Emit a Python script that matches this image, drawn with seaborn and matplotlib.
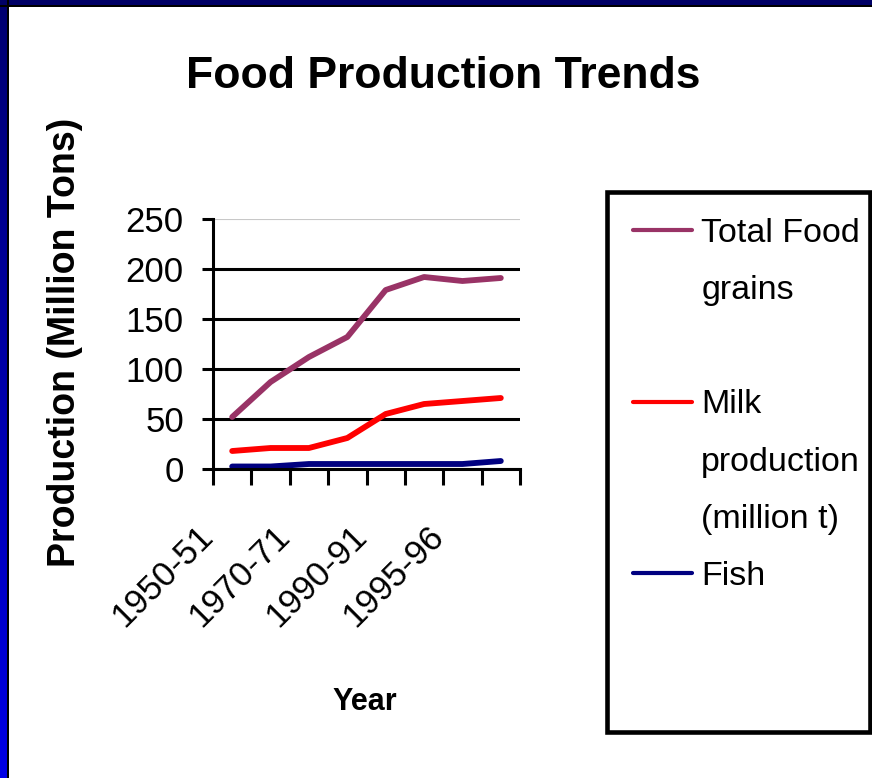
import numpy as np
import pandas as pd
import matplotlib
matplotlib.use("Agg")
import matplotlib.pyplot as plt
import matplotlib.transforms as mtransforms
from matplotlib.lines import Line2D
from matplotlib.patches import Rectangle
import seaborn as sns

# ---- data ----
x_labels = ["1950-51", "", "1970-71", "", "1990-91", "", "1995-96", ""]
grains = [52, 87, 112, 132, 179, 192, 188, 191]
milk = [18, 21, 21, 31, 55, 65, 68, 71]
fish = [2.5, 2.5, 5, 5, 5, 5, 5, 8]
series_names = ["Total Food grains", "Milk production (million t)", "Fish"]
colors = ["#993366", "#FF0000", "#000080"]
y_ticks = [0, 50, 100, 150, 200, 250]

rows = []
for name, vals in zip(series_names, [grains, milk, fish]):
    for i, v in enumerate(vals):
        rows.append({"idx": i, "value": v, "series": name})
df = pd.DataFrame(rows)

sns.set_theme(style="white")
FAM = ["Liberation Sans", "DejaVu Sans"]
plt.rcParams["font.family"] = FAM
for k in ["text.color", "axes.labelcolor", "xtick.color", "ytick.color"]:
    plt.rcParams[k] = "black"

fig = plt.figure(figsize=(8.72, 7.78), dpi=100, facecolor="white")
ax = fig.add_axes([213 / 872, 1 - 469 / 778, (520 - 213) / 872, (469 - 219) / 778])

sns.lineplot(data=df, x="idx", y="value", hue="series", hue_order=series_names,
             palette=colors, linewidth=4.2, legend=False, ax=ax, sort=False)

ax.set_xlim(-0.5, len(x_labels) - 0.5)
ax.set_ylim(0, 250)
ax.set_xlabel("")
ax.set_ylabel("")

# y axis
ax.set_yticks(y_ticks)
ax.set_yticklabels([str(t) for t in y_ticks], fontsize=25)
ax.tick_params(axis="y", which="major", direction="out", length=8, width=2.2,
               color="black", labelcolor="black", pad=13, left=True)
ax.yaxis.grid(True, color="black", linewidth=2.2)
ax.set_axisbelow(True)
gl = ax.get_ygridlines()
gl[-1].set_color("#c8c8c8")
gl[-1].set_linewidth(0.8)

# x axis: boundary ticks (minor) + labels at every other category (major)
ax.set_xticks(np.arange(-0.5, len(x_labels), 1.0), minor=True)
lab_pos = [i for i, l in enumerate(x_labels) if l]
ax.set_xticks(lab_pos)
ax.set_xticklabels([x_labels[i] for i in lab_pos], fontsize=25, rotation=45,
                   ha="right", va="center", rotation_mode="anchor")
ax.tick_params(axis="x", which="minor", direction="out", length=11.5, width=2.2,
               color="black", bottom=True)
ax.tick_params(axis="x", which="major", length=0, pad=45, bottom=True,
               labelcolor="black")
offset = mtransforms.ScaledTranslation(-24 / 100, 0, fig.dpi_scale_trans)
for lbl in ax.get_xticklabels():
    lbl.set_transform(lbl.get_transform() + offset)

for s in ["top", "right"]:
    ax.spines[s].set_visible(False)
for s in ["left", "bottom"]:
    ax.spines[s].set_color("black")
    ax.spines[s].set_linewidth(2.2)

# titles
fig.text(443.5 / 872, 1 - 88 / 778, "Food Production Trends", ha="center",
         va="baseline", fontsize=32, fontweight="bold", color="black")
fig.text(75 / 872, 1 - 342.5 / 778, "Production (Million Tons)", rotation=90,
         rotation_mode="anchor", ha="center", va="baseline", fontsize=27,
         fontweight="bold", color="black")
fig.text(365 / 872, 1 - 710 / 778, "Year", ha="center", va="baseline",
         fontsize=22, fontweight="bold", color="black")

# legend (lines laid out as in the original, handle on the first line of each entry)
blank = Line2D([], [], color="none")
h = [Line2D([], [], color=c, linewidth=3) for c in colors]
handles = [h[0], blank, blank, h[1], blank, blank, h[2], blank, blank]
labels = ["Total Food", "grains", " ", "Milk", "production", "(million t)",
          "Fish", " ", " "]
leg = fig.legend(handles, labels, loc="upper left",
                 bbox_to_anchor=(607 / 872, 1 - 192 / 778, (870 - 607) / 872, 0),
                 bbox_transform=fig.transFigure, mode="expand", borderaxespad=0,
                 fontsize=24.5, frameon=True, fancybox=False, framealpha=1,
                 handlelength=1.75, handletextpad=0.26, labelspacing=0.77,
                 borderpad=0.76)
leg.get_frame().set_edgecolor("black")
leg.get_frame().set_linewidth(3.3)
leg.get_frame().set_facecolor("white")
for t in leg.get_texts():
    t.set_color("black")

# slide border decoration
fig.patches.append(Rectangle((0, 1 - 5 / 778), 1, 5 / 778, transform=fig.transFigure,
                             facecolor="#000066", edgecolor="none", zorder=5))
fig.patches.append(Rectangle((0, 1 - 7 / 778), 1, 2 / 778, transform=fig.transFigure,
                             facecolor="black", edgecolor="none", zorder=5))
bax = fig.add_axes([0, 0, 7 / 872, 1])
grad = np.linspace(0, 1, 256).reshape(-1, 1)
cmap = matplotlib.colors.LinearSegmentedColormap.from_list("b", ["#000070", "#0000e6"])
bax.imshow(grad, aspect="auto", cmap=cmap, extent=[0, 1, 0, 1], origin="upper")
bax.set_axis_off()
fig.patches.append(Rectangle((7 / 872, 0), 2 / 872, 1, transform=fig.transFigure,
                             facecolor="black", edgecolor="none", zorder=5))

fig.savefig("out.png", dpi=100, facecolor="white")
